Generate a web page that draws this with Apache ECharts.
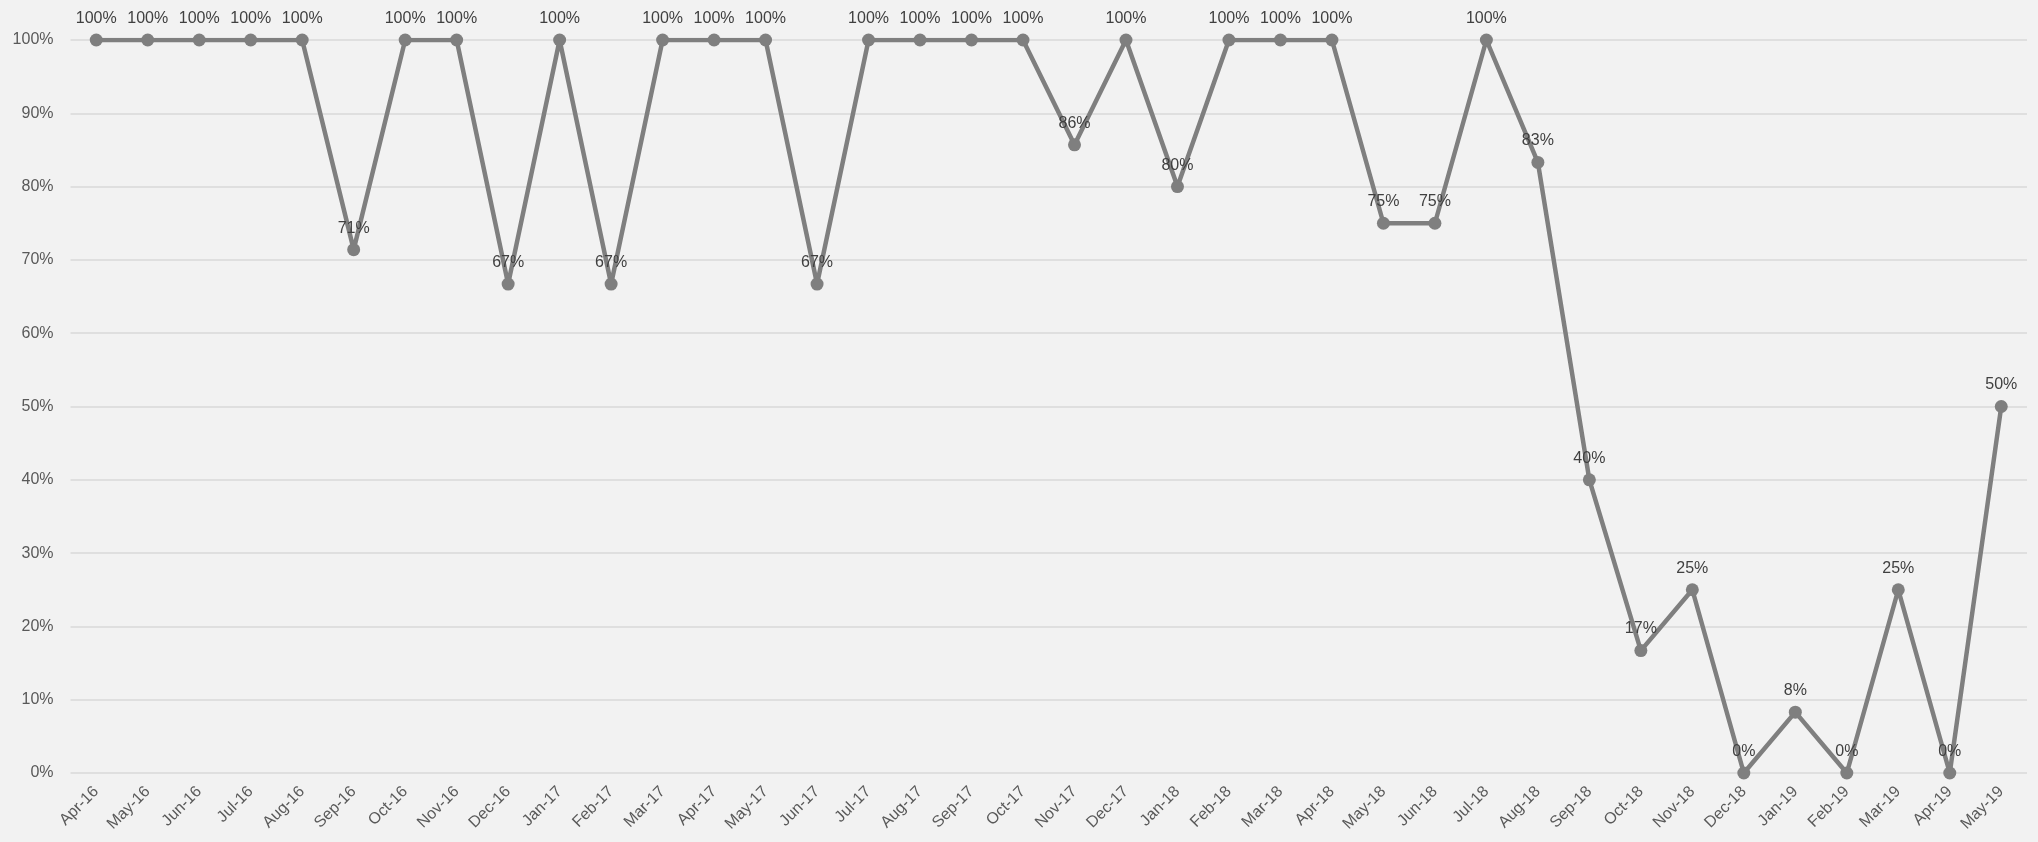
<!DOCTYPE html>
<html>
<head>
<meta charset="utf-8">
<script src="https://cdn.jsdelivr.net/npm/echarts@6/dist/echarts.min.js"></script>
<style>
html,body{margin:0;padding:0;background:#f2f2f2;}
#c{width:2038px;height:842px;}
</style>
</head>
<body>
<div id="c"></div>
<script>
const months = ["Apr-16","May-16","Jun-16","Jul-16","Aug-16","Sep-16","Oct-16","Nov-16","Dec-16","Jan-17","Feb-17","Mar-17","Apr-17","May-17","Jun-17","Jul-17","Aug-17","Sep-17","Oct-17","Nov-17","Dec-17","Jan-18","Feb-18","Mar-18","Apr-18","May-18","Jun-18","Jul-18","Aug-18","Sep-18","Oct-18","Nov-18","Dec-18","Jan-19","Feb-19","Mar-19","Apr-19","May-19"];
const rates = [1,1,1,1,1,0.714,1,1,0.667,1,0.667,1,1,1,0.667,1,1,1,1,0.857,1,0.8,1,1,1,0.75,0.75,1,0.833,0.4,0.167,0.25,0,0.083,0,0.25,0,0.5];
const yTicks = [0,0.1,0.2,0.3,0.4,0.5,0.6,0.7,0.8,0.9,1];

const chart = echarts.init(document.getElementById('c'));
chart.setOption({
  backgroundColor: '#f2f2f2',
  animation: false,
  grid: {left: 70.5, right: 11, top: 40, bottom: 69},
  xAxis: {
    type: 'category',
    data: months,
    boundaryGap: true,
    axisLine: {show: false},
    axisTick: {show: false},
    axisLabel: {
      rotate: 45, interval: 0, margin: 16,
      fontFamily: 'Liberation Sans', fontSize: 16, color: '#595959'
    }
  },
  yAxis: {
    type: 'value',
    min: yTicks[0], max: yTicks[yTicks.length-1], interval: 0.1,
    axisLine: {show: false},
    axisTick: {show: false},
    splitLine: {lineStyle: {color: '#d9d9d9', width: 1.5}},
    axisLabel: {
      margin: 17,
      fontFamily: 'Liberation Sans', fontSize: 16, color: '#595959',
      formatter: v => Math.round(v*100) + '%'
    }
  },
  series: [{
    type: 'line',
    data: rates,
    symbol: 'circle',
    symbolSize: 13,
    lineStyle: {color: '#7f7f7f', width: 4.5},
    itemStyle: {color: '#7f7f7f'},
    label: {
      show: true, position: 'top', distance: 7,
      fontFamily: 'Liberation Sans', fontSize: 16, color: '#404040',
      formatter: p => Math.round(p.value*100) + '%'
    }
  }]
});
</script>
</body>
</html>
